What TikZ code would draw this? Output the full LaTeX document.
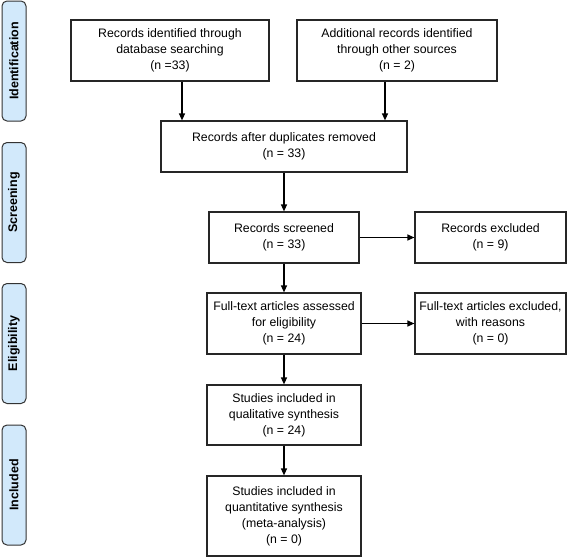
\documentclass[tikz,border=0pt]{standalone}
\usepackage{fontspec}
\setmainfont{Liberation Sans}
\usetikzlibrary{arrows.meta}
\definecolor{phaseblue}{HTML}{D2E9FB}
\begin{document}
\begin{tikzpicture}[x=1pt,y=-1pt,>={Triangle[length=7pt,width=6pt]},
  box/.style={draw=black!85,line width=1.2pt,align=center,inner sep=0pt,
    font=\fontsize{12.3}{16}\selectfont},
  phase/.style={draw=black!80,line width=1pt,rounded corners=5pt,fill=phaseblue,
    rotate=90,minimum width=120pt,minimum height=24pt,inner sep=0pt,
    font=\fontsize{12.5}{14}\selectfont\bfseries}]
  \useasboundingbox (0,0) rectangle (568,557);

  % phases on the left
  \foreach \y/\name in {61/Identification,202.5/Screening,343.5/Eligibility,485/Included}
    \node[phase] (ph-\name) at (14,\y) {\name};

  \node[box,minimum width=198pt,minimum height=61pt] (ident) at (170,50.5)
    {Records identified through\\database searching\\(n =33)};
  \node[box,minimum width=200pt,minimum height=61pt] (other) at (397,50.5)
    {Additional records identified\\through other sources\\(n = 2)};
  \node[box,minimum width=246pt,minimum height=51pt] (dupl) at (284,146.5)
    {Records after duplicates removed\\(n = 33)};
  \node[box,minimum width=150pt,minimum height=51pt] (screen) at (284,237.5)
    {Records screened\\(n = 33)};
  \node[box,minimum width=151pt,minimum height=51pt] (excl) at (490.5,237.5)
    {Records excluded\\(n = 9)};
  \node[box,minimum width=154pt,minimum height=61pt] (fulltext) at (284,323.5)
    {Full-text articles assessed\\for eligibility\\(n = 24)};
  \node[box,minimum width=151pt,minimum height=61pt] (ftexcl) at (490.5,323.5)
    {Full-text articles excluded,\\with reasons\\(n = 0)};
  \node[box,minimum width=154pt,minimum height=60pt] (qual) at (284,415)
    {Studies included in\\qualitative synthesis\\(n = 24)};
  \node[box,minimum width=154pt,minimum height=80pt] (quant) at (284,516)
    {Studies included in\\quantitative synthesis\\(meta-analysis)\\(n = 0)};

  \draw[->,line width=1.2pt] ([xshift=12pt]ident.south) -- ([xshift=12pt]ident.south |- dupl.north);
  \draw[->,line width=1.2pt] ([xshift=-12pt]other.south) -- ([xshift=-12pt]other.south |- dupl.north);
  \draw[->,line width=1.2pt] (dupl) -- (screen);
  \draw[->,line width=1.2pt] (screen) -- (excl);
  \draw[->,line width=1.2pt] (screen) -- (fulltext);
  \draw[->,line width=1.2pt] (fulltext) -- (ftexcl);
  \draw[->,line width=1.2pt] (fulltext) -- (qual);
  \draw[->,line width=1.2pt] (qual) -- (quant);

\end{tikzpicture}
\end{document}
